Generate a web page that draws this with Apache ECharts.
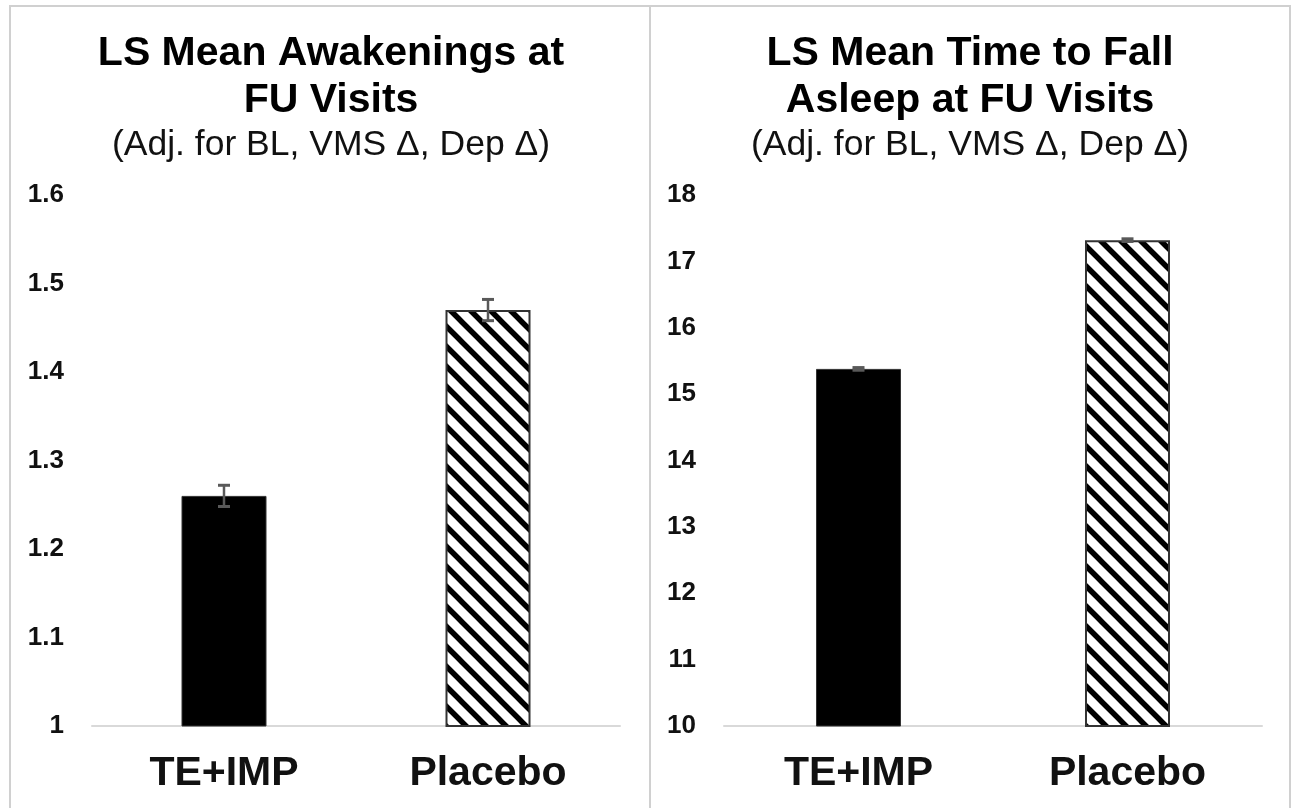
<!DOCTYPE html>
<html>
<head>
<meta charset="utf-8">
<script src="https://cdn.jsdelivr.net/npm/echarts@6/dist/echarts.min.js"></script>
<style>
html,body{margin:0;padding:0;background:#fff;}
#chart{width:1291px;height:808px;}
</style>
</head>
<body>
<div id="chart"></div>
<script>
// ---- data ----
const categories = ['TE+IMP', 'Placebo'];
const awakeningsMean = [1.26, 1.47];
const awakeningsErr = [0.012, 0.012];
const latencyMean = [15.38, 17.32];
const latencyErr = [0.02, 0.02];
const leftTitle = 'LS Mean Awakenings at\nFU Visits';
const rightTitle = 'LS Mean Time to Fall\nAsleep at FU Visits';
const subTitle = '(Adj. for BL, VMS \u0394, Dep \u0394)';

// ---- hatch pattern ----
function makeHatch() {
  const s = 20;
  const c = document.createElement('canvas');
  c.width = s; c.height = s;
  const ctx = c.getContext('2d');
  ctx.fillStyle = '#fff';
  ctx.fillRect(0, 0, s, s);
  ctx.strokeStyle = '#000';
  ctx.lineWidth = 5.5;
  ctx.lineCap = 'square';
  ctx.beginPath();
  for (const off of [-s, 0, s]) {
    ctx.moveTo(off - 6, -6);
    ctx.lineTo(off + s + 6, s + 6);
  }
  ctx.stroke();
  return c;
}
const hatch = makeHatch();

const FONT = '"Liberation Sans", Arial, sans-serif';

function barData(values) {
  return values.map((v, i) => ({
    value: v,
    itemStyle: i === 0
      ? { color: '#000', borderColor: '#333', borderWidth: 1 }
      : { color: { image: hatch, repeat: 'repeat' }, borderColor: '#333', borderWidth: 2 }
  }));
}

function errData(means, errs) {
  return means.map((m, i) => [i, m - errs[i], m + errs[i]]);
}

function errRender(params, api) {
  const x = api.value(0);
  const lo = api.coord([x, api.value(1)]);
  const hi = api.coord([x, api.value(2)]);
  const hw = 6;
  const st = { stroke: '#595959', lineWidth: 2.5 };
  return {
    type: 'group',
    children: [
      { type: 'line', shape: { x1: hi[0], y1: hi[1], x2: lo[0], y2: lo[1] }, style: st },
      { type: 'line', shape: { x1: hi[0] - hw, y1: hi[1], x2: hi[0] + hw, y2: hi[1] }, style: { stroke: '#595959', lineWidth: 3 } },
      { type: 'line', shape: { x1: lo[0] - hw, y1: lo[1], x2: lo[0] + hw, y2: lo[1] }, style: { stroke: '#595959', lineWidth: 3 } }
    ]
  };
}

function xAxis(gi) {
  return {
    type: 'category', gridIndex: gi, data: categories,
    axisLine: { lineStyle: { color: '#d9d9d9', width: 2 } },
    axisTick: { show: false },
    axisLabel: { fontFamily: FONT, fontSize: 41, fontWeight: 'bold', color: '#111', margin: 27, lineHeight: 41 }
  };
}
function yAxis(gi, min, max, interval) {
  return {
    type: 'value', gridIndex: gi, min: min, max: max, interval: interval,
    axisLine: { show: false }, axisTick: { show: false },
    splitLine: { show: false },
    axisLabel: { fontFamily: FONT, fontSize: 26, fontWeight: 'bold', color: '#111', margin: 28 }
  };
}
function title(text, x) {
  return {
    text: text, subtext: subTitle, left: x, top: 30, textAlign: 'center', padding: 0, itemGap: 1,
    textStyle: { fontFamily: FONT, fontSize: 41, fontWeight: 'bold', color: '#000', lineHeight: 47 },
    subtextStyle: { fontFamily: FONT, fontSize: 35.5, color: '#111', lineHeight: 40 }
  };
}

const chart = echarts.init(document.getElementById('chart'), null, { renderer: 'canvas' });
chart.setOption({
  backgroundColor: '#fff',
  animation: false,
  title: [title(leftTitle, 331), title(rightTitle, 970)],
  graphic: [
    { type: 'rect', shape: { x: 10, y: 6, width: 640, height: 820 }, style: { fill: 'none', stroke: '#d0d0d0', lineWidth: 2 }, silent: true },
    { type: 'rect', shape: { x: 650, y: 6, width: 640, height: 820 }, style: { fill: 'none', stroke: '#d0d0d0', lineWidth: 2 }, silent: true }
  ],
  grid: [
    { left: 92, top: 195, width: 528, height: 531 },
    { left: 724, top: 195, width: 538, height: 531 }
  ],
  xAxis: [xAxis(0), xAxis(1)],
  yAxis: [yAxis(0, 1, 1.6, 0.1), yAxis(1, 10, 18, 1)],
  series: [
    { type: 'bar', xAxisIndex: 0, yAxisIndex: 0, barWidth: 85, data: barData(awakeningsMean) },
    { type: 'custom', xAxisIndex: 0, yAxisIndex: 0, renderItem: errRender, data: errData(awakeningsMean, awakeningsErr), z: 5 },
    { type: 'bar', xAxisIndex: 1, yAxisIndex: 1, barWidth: 85, data: barData(latencyMean) },
    { type: 'custom', xAxisIndex: 1, yAxisIndex: 1, renderItem: errRender, data: errData(latencyMean, latencyErr), z: 5 }
  ]
});
</script>
</body>
</html>
